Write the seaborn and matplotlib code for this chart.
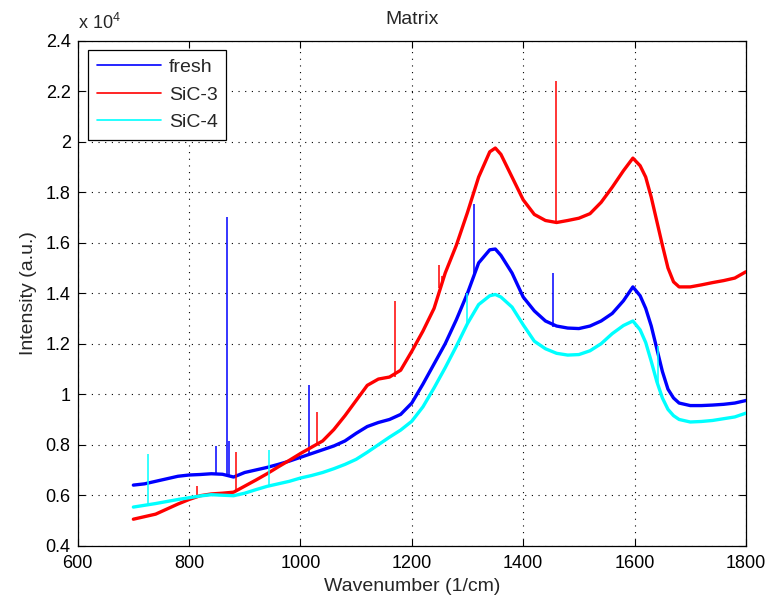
import numpy as np
import pandas as pd
import matplotlib
matplotlib.use("Agg")
import matplotlib.pyplot as plt
import seaborn as sns

# Raman spectra (intensity in units of 1e4 counts)
wavenumber = [700, 720, 740, 760, 780, 800, 820, 840, 860, 880, 900, 920, 940, 960, 980,
              1000, 1020, 1040, 1060, 1080, 1100, 1120, 1140, 1160, 1180, 1200, 1220, 1240,
              1260, 1280, 1300, 1320, 1340, 1350, 1360, 1380, 1400, 1420, 1440, 1460, 1480,
              1500, 1520, 1540, 1560, 1580, 1597, 1610, 1620, 1630, 1640, 1650, 1660, 1670,
              1680, 1700, 1720, 1740, 1760, 1780, 1800]

fresh = [0.640, 0.645, 0.655, 0.665, 0.675, 0.680, 0.682, 0.685, 0.683, 0.672, 0.690, 0.700,
         0.710, 0.722, 0.735, 0.750, 0.765, 0.780, 0.795, 0.815, 0.845, 0.872, 0.888, 0.900,
         0.920, 0.965, 1.040, 1.120, 1.200, 1.295, 1.400, 1.520, 1.572, 1.575, 1.550, 1.480,
         1.385, 1.330, 1.290, 1.270, 1.262, 1.260, 1.270, 1.290, 1.320, 1.370, 1.425, 1.390,
         1.340, 1.270, 1.180, 1.090, 1.020, 0.985, 0.965, 0.955, 0.955, 0.957, 0.960, 0.965,
         0.975]

sic3 = [0.505, 0.515, 0.525, 0.545, 0.565, 0.583, 0.598, 0.605, 0.608, 0.612, 0.636, 0.660,
        0.685, 0.712, 0.738, 0.765, 0.790, 0.815, 0.860, 0.915, 0.975, 1.035, 1.060, 1.068,
        1.095, 1.170, 1.250, 1.340, 1.480, 1.590, 1.720, 1.860, 1.960, 1.975, 1.950, 1.860,
        1.770, 1.712, 1.688, 1.680, 1.688, 1.697, 1.715, 1.760, 1.820, 1.885, 1.935, 1.905,
        1.860, 1.780, 1.685, 1.590, 1.500, 1.445, 1.425, 1.425, 1.433, 1.442, 1.450, 1.460,
        1.485]

sic4 = [0.553, 0.560, 0.567, 0.575, 0.583, 0.590, 0.597, 0.602, 0.600, 0.598, 0.608, 0.622,
        0.635, 0.645, 0.655, 0.668, 0.678, 0.690, 0.705, 0.722, 0.742, 0.770, 0.800, 0.830,
        0.858, 0.893, 0.950, 1.025, 1.105, 1.190, 1.280, 1.355, 1.390, 1.395, 1.385, 1.345,
        1.275, 1.210, 1.180, 1.162, 1.155, 1.157, 1.172, 1.200, 1.240, 1.272, 1.290, 1.255,
        1.205, 1.130, 1.050, 0.985, 0.940, 0.915, 0.900, 0.890, 0.892, 0.896, 0.903, 0.910,
        0.925]

# Cosmic-ray spikes: position, foot and tip (units of 1e4)
fresh_spike_x = [849, 868, 872, 1015, 1311, 1453]
fresh_spike_lo = [0.685, 0.680, 0.675, 0.762, 1.470, 1.268]
fresh_spike_hi = [0.795, 1.700, 0.815, 1.035, 1.755, 1.480]

sic3_spike_x = [815, 885, 1029, 1170, 1248, 1254, 1459]
sic3_spike_lo = [0.600, 0.615, 0.800, 1.070, 1.420, 1.440, 1.680]
sic3_spike_hi = [0.635, 0.770, 0.930, 1.370, 1.510, 1.470, 2.240]

sic4_spike_x = [727, 943, 1300, 1643]
sic4_spike_lo = [0.565, 0.638, 1.280, 1.030]
sic4_spike_hi = [0.765, 0.780, 1.400, 1.190]

labels = ["fresh", "SiC-3", "SiC-4"]
colors = {"fresh": "#0000ff", "SiC-3": "#ff0000", "SiC-4": "#00ffff"}
SCALE = 1e4

x_ticks = [600, 800, 1000, 1200, 1400, 1600, 1800]
y_ticks = [0.4, 0.6, 0.8, 1.0, 1.2, 1.4, 1.6, 1.8, 2.0, 2.2, 2.4]

sns.set_theme(style="ticks")
plt.rcParams["font.family"] = ["Liberation Sans", "DejaVu Sans"]
plt.rcParams["font.size"] = 14
plt.rcParams["mathtext.fontset"] = "custom"
plt.rcParams["mathtext.rm"] = "Liberation Sans"

series = {"fresh": fresh, "SiC-3": sic3, "SiC-4": sic4}
frames = []
for name in labels:
    frames.append(pd.DataFrame({
        "wavenumber": wavenumber,
        "intensity": np.asarray(series[name]) * SCALE,
        "sample": name,
    }))
df = pd.concat(frames, ignore_index=True)

fig = plt.figure(figsize=(7.69, 6.05), dpi=100)
ax = fig.add_axes([0.101, 0.098, 0.869, 0.8347])

spikes = {
    "fresh": (fresh_spike_x, fresh_spike_lo, fresh_spike_hi),
    "SiC-3": (sic3_spike_x, sic3_spike_lo, sic3_spike_hi),
    "SiC-4": (sic4_spike_x, sic4_spike_lo, sic4_spike_hi),
}

for name in labels:
    sub = df[df["sample"] == name]
    sns.lineplot(data=sub, x="wavenumber", y="intensity", color=colors[name],
                 linewidth=2.4, estimator=None, sort=False, ax=ax, label=name,
                 zorder=3)
    sx, lo, hi = spikes[name]
    ax.vlines(sx, np.asarray(lo) * SCALE, np.asarray(hi) * SCALE,
              color=colors[name], linewidth=1.1, zorder=3)

ax.set_xlim(600, 1800)
ax.set_ylim(0.4 * SCALE, 2.4 * SCALE)
ax.set_xticks(x_ticks)
ax.set_xticklabels([str(v) for v in x_ticks])
ax.set_yticks([v * SCALE for v in y_ticks])
ax.set_yticklabels(["%g" % v for v in y_ticks])

ax.grid(True, color="black", linestyle=(0, (1, 5)), linewidth=0.8)
ax.tick_params(direction="in", length=5, width=0.8, top=True, right=True,
               colors="black", labelsize=13)
ax.tick_params(axis="x", pad=7)
ax.tick_params(axis="y", pad=5)
for s in ax.spines.values():
    s.set_color("black")
    s.set_linewidth(0.9)

ax.set_title("Matrix", fontsize=14, pad=12)
ax.set_xlabel("Wavenumber (1/cm)", fontsize=14, labelpad=4)
ax.set_ylabel("Intensity (a.u.)", fontsize=14, labelpad=6)
ax.text(0.0, 1.016, r"x 10$^{4}$", transform=ax.transAxes, fontsize=13,
        ha="left", va="bottom")

leg = ax.legend(loc="upper left", bbox_to_anchor=(0.0154, 0.982), frameon=True,
                fancybox=False, edgecolor="black", framealpha=1, fontsize=14,
                handlelength=3.3, borderpad=0.45, labelspacing=0.5,
                handletextpad=0.4, borderaxespad=0.0)
leg.get_frame().set_linewidth(0.9)
for line in leg.get_lines():
    line.set_linewidth(1.2)

fig.savefig("out.png", dpi=100)
